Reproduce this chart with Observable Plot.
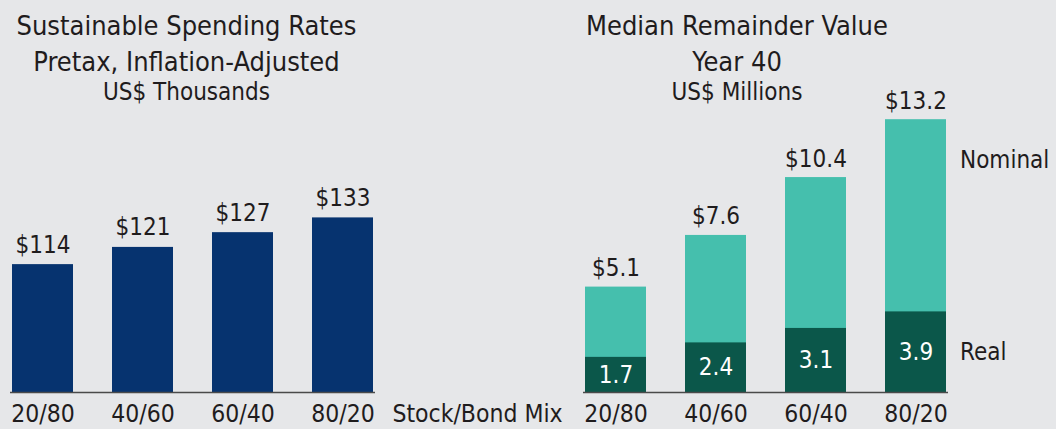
<!DOCTYPE html>
<html>
<head>
<meta charset="utf-8">
<script src="https://cdn.jsdelivr.net/npm/d3@7"></script>
<script src="https://cdn.jsdelivr.net/npm/@observablehq/plot@0.6"></script>
<style>
html, body { margin: 0; padding: 0; background: #e6e7e9; }
#root { position: relative; width: 1056px; height: 429px; overflow: hidden; background: #e6e7e9; }
#root > svg, #root > div { position: absolute; top: 0; }
</style>
</head>
<body>
<div id="root"></div>
<script>
// ---- data ----
const mixes = ["20/80", "40/60", "60/40", "80/20"];
const spending = [114, 121, 127, 133];           // US$ thousands
const nominal = [5.1, 7.6, 10.4, 13.2];          // US$ millions
const real = [1.7, 2.4, 3.1, 3.9];               // US$ millions
const series = ["Nominal", "Real"];
const leftTitle = ["Sustainable Spending Rates", "Pretax, Inflation-Adjusted", "US$ Thousands"];
const rightTitle = ["Median Remainder Value", "Year 40", "US$ Millions"];
const axisTitle = "Stock/Bond Mix";

const FONT = '"DejaVu Sans Condensed", "DejaVu Sans", sans-serif';
const TEXT = "#1f1c1d";
const root = document.getElementById("root");

const left = mixes.map((m, i) => ({mix: m, v: spending[i]}));
const right = mixes.map((m, i) => ({mix: m, nominal: nominal[i], real: real[i]}));

const common = {
  height: 429,
  marginBottom: 37,
  style: {fontFamily: FONT, fontSize: "24.5px", color: TEXT, background: "transparent", overflow: "visible"},
};

const leftPlot = Plot.plot({
  ...common,
  width: 390,
  marginLeft: 10,
  marginRight: 15,
  marginTop: 151,
  x: {domain: mixes, paddingInner: 0.386, paddingOuter: 0, tickSize: 0, tickPadding: 12, label: null},
  y: {domain: [62, 160], axis: null},
  marks: [
    Plot.barY(left, {x: "mix", y1: 62, y2: "v", fill: "#06336f"}),
    Plot.ruleY([62], {stroke: "#4a4a4a", strokeWidth: 1.6}),
    Plot.text(left, {x: "mix", y: "v", text: d => `$${d.v}`, lineAnchor: "bottom", dy: -12, fontSize: 24, fill: TEXT})
  ]
});
leftPlot.style.left = "0px";
root.appendChild(leftPlot);

const last = [right[right.length - 1]];
const rightPlot = Plot.plot({
  ...common,
  width: 496,
  marginLeft: 23,
  marginRight: 108,
  marginTop: 82,
  x: {domain: mixes, paddingInner: 0.386, paddingOuter: 0, tickSize: 0, tickPadding: 12, label: null},
  y: {domain: [0, 15], axis: null},
  marks: [
    Plot.barY(right, {x: "mix", y: "nominal", fill: "#45bfad"}),
    Plot.barY(right, {x: "mix", y: "real", fill: "#0b574a"}),
    Plot.ruleY([0], {stroke: "#4a4a4a", strokeWidth: 1.6}),
    Plot.text(right, {x: "mix", y: "nominal", text: d => `$${d.nominal.toFixed(1)}`, lineAnchor: "bottom", dy: -11, fontSize: 24, fill: TEXT}),
    Plot.text(right, {x: "mix", y: d => d.real / 2, text: d => d.real.toFixed(1), lineAnchor: "middle", fontSize: 24, fill: "white"}),
    Plot.text(last, {x: "mix", y: "nominal", text: () => series[0], textAnchor: "start", lineAnchor: "top", dx: 44, dy: 31, fontSize: 24, fill: TEXT}),
    Plot.text(last, {x: "mix", y: d => d.real / 2, text: () => series[1], textAnchor: "start", lineAnchor: "middle", dx: 44, fontSize: 24, fill: TEXT})
  ]
});
rightPlot.style.left = "560px";
root.appendChild(rightPlot);

// ---- titles (free text) ----
const svg = d3.select(root).append("svg")
  .attr("width", 1056).attr("height", 429)
  .style("left", "0px").style("pointer-events", "none")
  .attr("font-family", FONT).attr("fill", TEXT).attr("text-anchor", "middle");

const titleRows = [
  {y: 35, size: 27}, {y: 71, size: 27}, {y: 100, size: 24}
];
leftTitle.forEach((t, i) => svg.append("text").attr("x", 186.5).attr("y", titleRows[i].y).attr("font-size", titleRows[i].size).text(t));
rightTitle.forEach((t, i) => svg.append("text").attr("x", 737).attr("y", titleRows[i].y).attr("font-size", titleRows[i].size).text(t));
svg.append("text").attr("x", 477.5).attr("y", 422).attr("font-size", 24.5).text(axisTitle);
</script>
</body>
</html>
